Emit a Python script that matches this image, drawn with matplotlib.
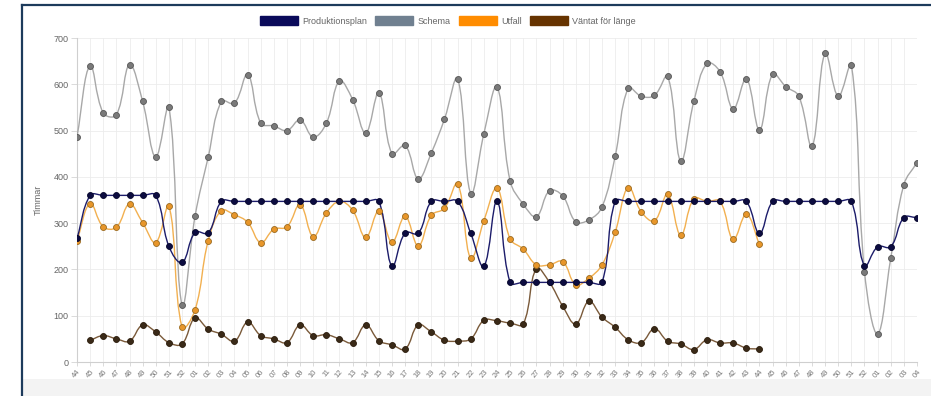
import numpy as np
import matplotlib
matplotlib.use("Agg")
import matplotlib.pyplot as plt
from matplotlib.path import Path
from matplotlib.patches import PathPatch, Patch, Rectangle
from matplotlib.lines import Line2D

plt.rcParams['font.family'] = ['Liberation Sans', 'DejaVu Sans']

# veckor (x-axel)
veckor = [f"{w:02d}" for w in list(range(44, 53)) + list(range(1, 53)) + list(range(1, 5))]

produktionsplan = [267, 360, 360, 360, 360, 360, 360, 250, 215, 280, 279,
                   347, 347, 347, 347, 347, 347, 347, 347, 347, 347, 347, 347, 347,
                   207, 279, 278, 347, 347, 347, 278, 207, 347,
                   172, 172, 172, 172, 172, 172, 172, 172,
                   347, 347, 347, 347, 347, 347, 347, 347, 347, 347, 347, 278,
                   347, 347, 347, 347, 347, 347, 347, 208, 249, 249, 312, 312]

schema = [487, 640, 538, 534, 642, 563, 443, 551, 123, 316, 443, 563, 559, 621,
          516, 510, 500, 523, 486, 516, 607, 567, 495, 581, 450, 468, 396, 452,
          525, 612, 364, 493, 594, 391, 341, 314, 370, 359, 303, 307, 335, 444,
          592, 574, 576, 617, 434, 563, 645, 627, 547, 612, 502, 622, 595, 574,
          466, 667, 574, 642, 195, 61, 224, 383, 431]

utfall = [262, 342, 292, 291, 341, 301, 258, 337, 75, 113, 262, 327, 318, 302,
          258, 287, 292, 340, 271, 322, 347, 328, 269, 326, 259, 315, 251, 317,
          332, 385, 224, 305, 375, 266, 244, 210, 210, 217, 167, 181, 210, 280,
          377, 324, 305, 362, 274, 353, 347, 347, 265, 319, 254] + [None] * 12

vantat = [None, 47, 57, 50, 45, 80, 65, 42, 39, 95, 71, 60, 45, 86, 57, 50, 42,
          80, 57, 59, 50, 42, 80, 46, 37, 28, 80, 65, 47, 45, 50, 90, 89, 84,
          82, 202, 172, 121, 82, 131, 97, 75, 48, 42, 72, 45, 39, 27, 48, 41,
          41, 30, 28] + [None] * 12

fig = plt.figure(figsize=(9.31, 3.96), dpi=100)
ax = fig.add_axes([77 / 931, 34 / 396, 840 / 931, 324 / 396])
ax.set_xlim(0, len(veckor) - 1)
ax.set_ylim(0, 700)


def kurva(ax, xs, ys, farg, lw, t=0.4):
    # chart.js-liknande utjämning (bezier), räknas i pixlar
    pts = ax.transData.transform(np.column_stack([xs, ys]))
    n = len(pts)
    cp, cn = [], []
    for i in range(n):
        prev = pts[max(i - 1, 0)]
        cur = pts[i]
        nxt = pts[min(i + 1, n - 1)]
        d01 = np.hypot(*(cur - prev))
        d12 = np.hypot(*(nxt - cur))
        tot = d01 + d12
        s01 = d01 / tot if tot else 0
        s12 = d12 / tot if tot else 0
        cp.append(cur - t * s01 * (nxt - prev))
        cn.append(cur + t * s12 * (nxt - prev))
    verts = [pts[0]]
    codes = [Path.MOVETO]
    for i in range(1, n):
        verts += [cn[i - 1], cp[i], pts[i]]
        codes += [Path.CURVE4] * 3
    verts = ax.transData.inverted().transform(np.array(verts))
    verts[:, 1] = np.clip(verts[:, 1], 0, 700)
    ax.add_patch(PathPatch(Path(verts, codes), fill=False, edgecolor=farg, lw=lw, zorder=3))


serier = [
    (vantat, '#7a5a3a', '#3a2a18', '#2a1a0a', 2),
    (utfall, '#f2b050', '#e8962a', '#9a6a20', 3),
    (schema, '#a8a8a8', '#7a7a7a', '#555555', 4),
    (produktionsplan, '#1c1c6a', '#0c0c40', '#05052a', 5),
]

for data, linje, fyll, kant, z in serier:
    x = np.array([i for i, v in enumerate(data) if v is not None], dtype=float)
    y = np.array([v for v in data if v is not None], dtype=float)
    kurva(ax, x, y, linje, 1.0)
    ax.plot(x, y, 'o', ms=4.3, mfc=fyll, mec=kant, mew=0.6, zorder=10 + z)

ax.set_yticks(range(0, 701, 100))
ax.set_xticks(range(len(veckor)))
ax.set_xticklabels(veckor, rotation=50, ha='right', va='top', rotation_mode='anchor')
ax.tick_params(axis='x', labelsize=5.5, colors='#cccccc', labelcolor='#777777', length=3, width=0.5, pad=1.5)
ax.tick_params(axis='y', labelsize=6.5, colors='#cccccc', labelcolor='#666666', length=4, width=0.5, pad=2)
ax.grid(True, color='#ececec', lw=0.6)
ax.set_axisbelow(True)
for s in ['top', 'right']:
    ax.spines[s].set_visible(False)
for s in ['left', 'bottom']:
    ax.spines[s].set_color('#cfcfcf')
    ax.spines[s].set_linewidth(0.8)
ax.set_ylabel('Timmar', fontsize=6.5, color='#666666', labelpad=8)

handles = [
    Patch(facecolor='#0a0a5a', edgecolor='#0a0a5a', label='Produktionsplan'),
    Patch(facecolor='#708090', edgecolor='#708090', label='Schema'),
    Patch(facecolor='#ff8c00', edgecolor='#ff8c00', label='Utfall'),
    Patch(facecolor='#663300', edgecolor='#663300', label='Väntat för länge'),
]
fig.legend(handles=handles, loc='center', bbox_to_anchor=(0.481, 0.947), ncol=4,
           frameon=False, fontsize=6.5, handlelength=4.2, handleheight=1.1,
           columnspacing=0.9, handletextpad=0.5, labelcolor='#666666')

# ram och grått fält längst ned
fig.add_artist(Rectangle((22 / 931, 0), 1, 17 / 396, transform=fig.transFigure,
                         facecolor='#f3f3f3', edgecolor='none', zorder=-1))
fig.add_artist(Line2D([21.5 / 931, 21.5 / 931], [0, 391.5 / 396], color='#1d3b5c', lw=1.6))
fig.add_artist(Line2D([21.5 / 931, 1], [391.5 / 396, 391.5 / 396], color='#1d3b5c', lw=1.6))

fig.savefig('out.png', dpi=100)
